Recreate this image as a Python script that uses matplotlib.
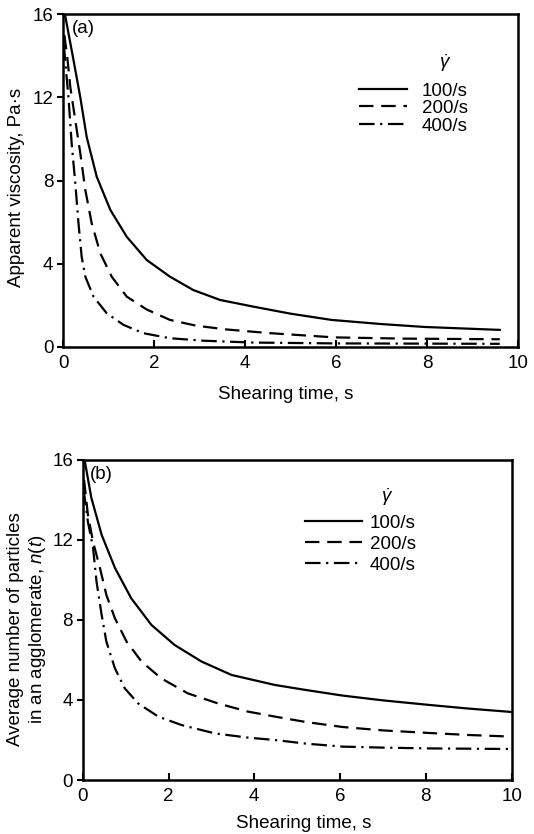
import matplotlib
matplotlib.use("Agg")
import matplotlib.pyplot as plt

plt.rcParams['font.family'] = ['Liberation Sans', 'DejaVu Sans']
plt.rcParams['mathtext.fontset'] = 'custom'
plt.rcParams['mathtext.rm'] = 'Liberation Sans'
plt.rcParams['mathtext.it'] = 'Liberation Sans:italic'

# ---- Panel (a): apparent viscosity, Pa·s ----
a_x_100 = [0.0, 0.05, 0.23, 0.38, 0.52, 0.74, 1.04, 1.40, 1.84, 2.35, 2.86, 3.45, 4.18, 5.0, 5.9, 7.0, 7.95, 9.6]
a_y_100 = [16.0, 15.9, 13.8, 12.0, 10.1, 8.19, 6.59, 5.30, 4.18, 3.38, 2.74, 2.26, 1.94, 1.6, 1.3, 1.1, 0.96, 0.82]
a_x_200 = [0.03, 0.1, 0.16, 0.27, 0.38, 0.49, 0.63, 0.82, 1.07, 1.40, 1.84, 2.35, 2.93, 3.6, 4.5, 5.96, 7.5, 9.6]
a_y_200 = [15.0, 13.8, 12.5, 10.9, 9.31, 7.55, 5.95, 4.50, 3.38, 2.42, 1.80, 1.30, 1.02, 0.84, 0.67, 0.46, 0.40, 0.37]
a_x_400 = [0.02, 0.07, 0.12, 0.19, 0.27, 0.34, 0.41, 0.49, 0.67, 0.96, 1.33, 1.77, 2.35, 3.08, 4.18, 6.0, 9.6]
a_y_400 = [14.5, 13.2, 12.0, 9.79, 7.87, 5.95, 4.34, 3.38, 2.42, 1.62, 1.06, 0.66, 0.42, 0.30, 0.21, 0.17, 0.15]

# ---- Panel (b): average number of particles in an agglomerate ----
b_x_100 = [0.0, 0.05, 0.20, 0.44, 0.75, 1.13, 1.60, 2.14, 2.77, 3.47, 4.48, 5.2, 6.06, 7.0, 8.09, 9.0, 10.0]
b_y_100 = [16.0, 15.9, 14.1, 12.25, 10.6, 9.08, 7.75, 6.75, 5.92, 5.25, 4.75, 4.5, 4.22, 3.98, 3.75, 3.57, 3.4]
b_x_200 = [0.03, 0.12, 0.24, 0.40, 0.55, 0.75, 1.02, 1.37, 1.83, 2.45, 3.15, 3.85, 4.48, 5.2, 6.06, 7.0, 8.09, 9.0, 10.0]
b_y_200 = [15.0, 13.25, 11.9, 10.6, 9.25, 8.08, 6.92, 5.92, 5.08, 4.33, 3.83, 3.42, 3.17, 2.9, 2.65, 2.48, 2.35, 2.25, 2.17]
b_x_400 = [0.02, 0.12, 0.24, 0.32, 0.44, 0.55, 0.75, 0.98, 1.29, 1.76, 2.30, 3.08, 3.85, 4.48, 5.2, 6.06, 7.0, 8.09, 10.0]
b_y_400 = [14.5, 12.9, 11.6, 9.92, 8.25, 6.92, 5.58, 4.58, 3.83, 3.17, 2.75, 2.33, 2.12, 2.0, 1.82, 1.67, 1.62, 1.58, 1.55]

labels = ['100/s', '200/s', '400/s']
xticks = [0, 2, 4, 6, 8, 10]
yticks = [0, 4, 8, 12, 16]

FS = 13.5
LW = 1.6
styles = [dict(linestyle='-'),
          dict(dashes=(6.5, 3.5)),
          dict(dashes=(7, 2.5, 1, 2.5))]

fig = plt.figure(figsize=(5.34, 8.34), dpi=100)
axa = fig.add_axes([0.118, 0.584, 0.852, 0.399])
axb = fig.add_axes([0.155, 0.0647, 0.803, 0.384])


def style_axes(ax):
    ax.set_xlim(0, 10)
    ax.set_ylim(0, 16)
    ax.set_xticks(xticks)
    ax.set_yticks(yticks)
    ax.set_xticklabels([str(t) for t in xticks], fontsize=FS)
    ax.set_yticklabels([str(t) for t in yticks], fontsize=FS)
    ax.tick_params(axis='x', direction='in', length=5, width=1.5, pad=6)
    ax.tick_params(axis='y', direction='out', length=4, width=1.5, pad=3)
    for s in ax.spines.values():
        s.set_linewidth(1.8)


# Panel (a)
for xs, ys, lab, st in zip([a_x_100, a_x_200, a_x_400],
                           [a_y_100, a_y_200, a_y_400], labels, styles):
    axa.plot(xs, ys, color='black', lw=LW, label=lab, **st)
style_axes(axa)
axa.set_xlabel('Shearing time, s', fontsize=FS)
axa.set_ylabel('Apparent viscosity, Pa·s', fontsize=FS)
axa.xaxis.set_label_coords(0.49, -0.117)
axa.yaxis.set_label_coords(-0.084, 0.48)
axa.text(0.02, 0.957, '(a)', transform=axa.transAxes, fontsize=FS, va='center', ha='left')
axa.text(0.839, 0.853, r'$\dot{\gamma}$', transform=axa.transAxes, fontsize=FS, va='center', ha='center')
axa.legend(frameon=False, loc='upper left', bbox_to_anchor=(0.65, 0.795),
           fontsize=FS, handlelength=2.6, handletextpad=0.75, labelspacing=0.02,
           borderpad=0, borderaxespad=0)

# Panel (b)
for xs, ys, lab, st in zip([b_x_100, b_x_200, b_x_400],
                           [b_y_100, b_y_200, b_y_400], labels, styles):
    axb.plot(xs, ys, color='black', lw=LW, label=lab, **st)
style_axes(axb)
axb.set_xlabel('Shearing time, s', fontsize=FS)
axb.set_ylabel('Average number of particles\nin an agglomerate, $\\it{n}$($\\it{t}$)', fontsize=FS)
axb.xaxis.set_label_coords(0.515, -0.11)
axb.yaxis.set_label_coords(-0.082, 0.47)
axb.text(0.016, 0.953, '(b)', transform=axb.transAxes, fontsize=FS, va='center', ha='left')
axb.text(0.709, 0.884, r'$\dot{\gamma}$', transform=axb.transAxes, fontsize=FS, va='center', ha='center')
axb.legend(frameon=False, loc='upper left', bbox_to_anchor=(0.519, 0.828),
           fontsize=FS, handlelength=3.0, handletextpad=0.45, labelspacing=0.2,
           borderpad=0, borderaxespad=0)

fig.savefig('out.png', dpi=100)
